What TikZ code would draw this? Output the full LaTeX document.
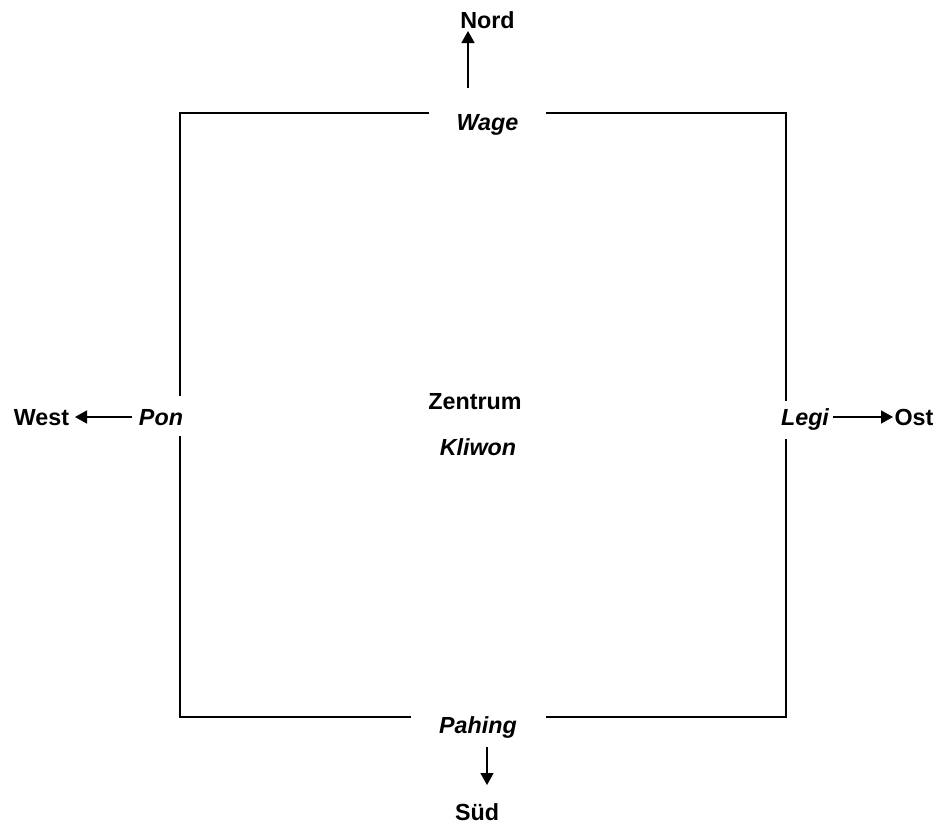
\documentclass[tikz,border=0pt]{standalone}
\usepackage{fontspec}
\setmainfont{Liberation Sans}
\usetikzlibrary{arrows.meta}
\begin{document}
\begin{tikzpicture}[x=1pt,y=-1pt,
  lbl/.style={font=\fontsize{23.3}{28}\selectfont\bfseries, inner sep=0pt, anchor=base},
  ilbl/.style={lbl, font=\fontsize{23.3}{28}\selectfont\bfseries\itshape},
  boxline/.style={line width=2pt, line cap=rect},
  dirarrow/.style={line width=1.6pt, -{Triangle[length=12pt,width=13pt]}}]
\useasboundingbox (0,0) rectangle (937,825);
% labels
\node[lbl] (nord) at (487.5,28.5) {Nord};
\node[ilbl] (wage) at (487.5,130.5) {Wage};
\node[lbl] (west) at (41.5,425.5) {West};
\node[ilbl] (pon) at (161,425.5) {Pon};
\node[ilbl] (legi) at (805,425.5) {Legi};
\node[lbl] (ost) at (914,425.5) {Ost};
\node[lbl] (zentrum) at (475,409) {Zentrum};
\node[ilbl] (kliwon) at (478,455) {Kliwon};
\node[ilbl] (pahing) at (478,733) {Pahing};
\node[lbl] (sued) at (477,820) {Süd};
% square with gaps
\draw[boxline] (428,113) -- (180,113) -- (180,395);
\draw[boxline] (180,437) -- (180,717) -- (410,717);
\draw[boxline] (547,717) -- (786,717) -- (786,440);
\draw[boxline] (786,400) -- (786,113) -- (547,113);
% arrows
\coordinate (nA) at (468,88);
\coordinate (nB) at (468,31);
\draw[dirarrow] (nA) -- (nB);
\coordinate (wA) at (132,417);
\coordinate (wB) at (75,417);
\draw[dirarrow] (wA) -- (wB);
\coordinate (oA) at (833,417);
\coordinate (oB) at (893,417);
\draw[dirarrow] (oA) -- (oB);
\coordinate (sA) at (487,747);
\coordinate (sB) at (487,785);
\draw[dirarrow] (sA) -- (sB);
\end{tikzpicture}
\end{document}
